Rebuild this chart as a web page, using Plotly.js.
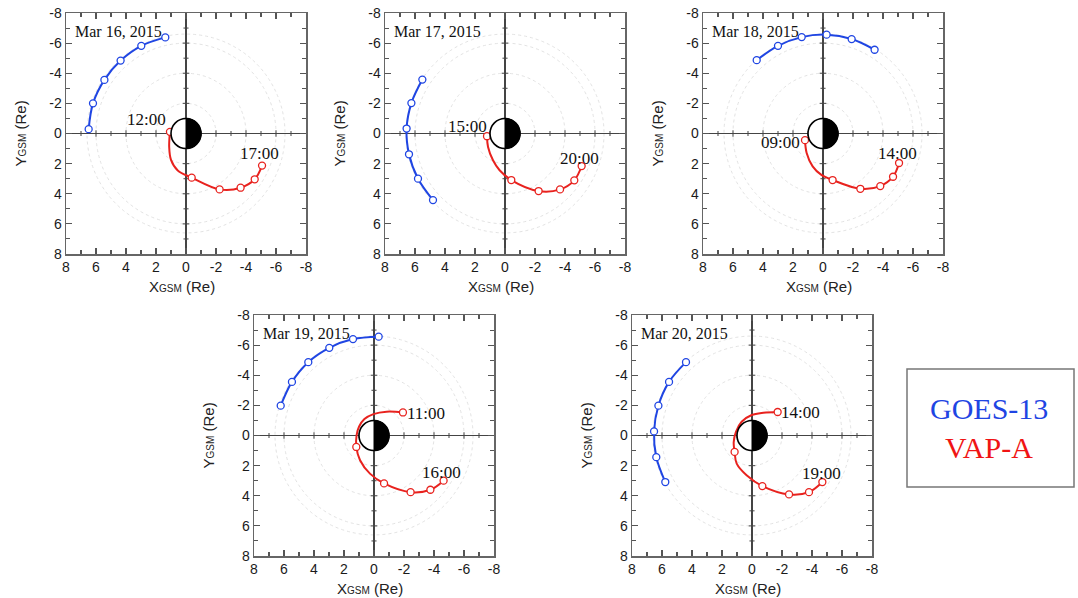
<!DOCTYPE html>
<html>
<head>
<meta charset="utf-8">
<script src="https://cdn.plot.ly/plotly-3.0.1.min.js"></script>
<style>html,body{margin:0;padding:0;background:#fff;}#chart{width:1078px;height:598px;}</style>
</head>
<body>
<div id="chart"></div>
<script>
// ---------------- DATA ----------------
const dayLabels = ['Mar 16, 2015', 'Mar 17, 2015', 'Mar 18, 2015', 'Mar 19, 2015', 'Mar 20, 2015'];
const startTimes = ['12:00', '15:00', '09:00', '11:00', '14:00'];
const endTimes = ['17:00', '20:00', '14:00', '16:00', '19:00'];
const seriesNames = ['GOES-13', 'VAP-A'];

// GOES-13 hourly positions (X_GSM, Y_GSM in Re)
const goesX16 = [6.49, 6.20, 5.44, 4.36, 2.98, 1.38];
const goesY16 = [-0.29, -2.00, -3.56, -4.84, -5.82, -6.38];
const goesX17 = [5.51, 6.24, 6.56, 6.40, 5.80, 4.80];
const goesY17 = [-3.58, -2.02, -0.33, 1.38, 3.00, 4.42];
const goesX18 = [4.42, 3.00, 1.42, -0.24, -1.91, -3.44];
const goesY18 = [-4.87, -5.82, -6.40, -6.56, -6.27, -5.56];
const goesX19 = [6.22, 5.47, 4.38, 2.98, 1.40, -0.31];
const goesY19 = [-1.98, -3.56, -4.87, -5.82, -6.40, -6.56];
const goesX20 = [4.40, 5.53, 6.24, 6.53, 6.38, 5.78];
const goesY20 = [-4.87, -3.56, -1.98, -0.27, 1.44, 3.09];

// VAP-A hourly positions
const vapX16 = [1.07, -0.38, -2.24, -3.64, -4.58, -5.07];
const vapY16 = [-0.11, 2.93, 3.71, 3.60, 3.04, 2.13];
const vapX17 = [1.20, -0.42, -2.24, -3.67, -4.62, -5.11];
const vapY17 = [0.18, 3.09, 3.82, 3.71, 3.11, 2.16];
const vapX18 = [1.20, -0.64, -2.49, -3.82, -4.67, -5.07];
const vapY18 = [0.44, 3.09, 3.67, 3.49, 2.87, 1.96];
const vapX19 = [-1.93, 1.18, -0.67, -2.44, -3.76, -4.64];
const vapY19 = [-1.53, 0.76, 3.18, 3.76, 3.60, 3.00];
const vapX20 = [-1.71, 1.16, -0.69, -2.47, -3.80, -4.69];
const vapY20 = [-1.56, 1.09, 3.36, 3.91, 3.76, 3.09];

// VAP-A orbit track (includes the points between the hourly marks)
const trackX16 = [1.07, 1.12, 1.00, 0.55, -0.38, -2.24, -3.64, -4.58, -5.07];
const trackY16 = [-0.11, 0.90, 1.75, 2.45, 2.93, 3.71, 3.60, 3.04, 2.13];
const trackX17 = [1.20, 1.13, 0.80, 0.36, -0.42, -2.24, -3.67, -4.62, -5.11];
const trackY17 = [0.18, 0.89, 1.78, 2.44, 3.09, 3.82, 3.71, 3.11, 2.16];
const trackX18 = [1.20, 1.09, 0.69, 0.13, -0.64, -2.49, -3.82, -4.67, -5.07];
const trackY18 = [0.44, 1.29, 2.18, 2.73, 3.09, 3.67, 3.49, 2.87, 1.96];
const trackX19 = [-1.93, -0.84, 0.04, 0.64, 1.00, 1.16, 1.18, 0.93, 0.27, -0.67, -2.44, -3.76, -4.64];
const trackY19 = [-1.53, -1.58, -1.42, -1.09, -0.58, -0.02, 0.76, 1.64, 2.53, 3.18, 3.76, 3.60, 3.00];
const trackX20 = [-1.71, -0.76, 0.02, 0.69, 1.07, 1.22, 1.16, 1.02, 0.36, -0.69, -2.47, -3.80, -4.69];
const trackY20 = [-1.56, -1.51, -1.36, -0.91, -0.24, 0.45, 1.09, 1.87, 2.64, 3.36, 3.91, 3.76, 3.09];

const tickVals = [-8, -6, -4, -2, 0, 2, 4, 6, 8];
const tickText = ['-8', '-6', '-4', '-2', '0', '2', '4', '6', '8'];
const ringRadii = [2, 4, 6, 6.6];

// ---------------- LAYOUT ----------------
const W = 1078, H = 598;
const boxes = [[66, 13], [385, 13], [703, 13], [254, 315], [632, 315]];
const PW = 240, PH = 241;
const startLabelPos = [
  {x: 1.25, y: -0.96, xanchor: 'right'},
  {x: 1.12, y: -0.44, xanchor: 'right'},
  {x: 1.50, y: 0.62, xanchor: 'right'},
  {x: -2.15, y: -1.47, xanchor: 'left'},
  {x: -1.85, y: -1.51, xanchor: 'left'}
];
const endLabelPos = [
  {x: -4.89, y: 1.36}, {x: -4.99, y: 1.69}, {x: -4.96, y: 1.36}, {x: -4.50, y: 2.47}, {x: -4.62, y: 2.51}
];

const panels = [
  {gx: goesX16, gy: goesY16, vx: vapX16, vy: vapY16, tx: trackX16, ty: trackY16},
  {gx: goesX17, gy: goesY17, vx: vapX17, vy: vapY17, tx: trackX17, ty: trackY17},
  {gx: goesX18, gy: goesY18, vx: vapX18, vy: vapY18, tx: trackX18, ty: trackY18},
  {gx: goesX19, gy: goesY19, vx: vapX19, vy: vapY19, tx: trackX19, ty: trackY19},
  {gx: goesX20, gy: goesY20, vx: vapX20, vy: vapY20, tx: trackX20, ty: trackY20}
];

const BLUE = '#1f45e3', RED = '#e8221e';
const SANS = 'Liberation Sans, Arial, sans-serif';
const SERIF = 'Liberation Serif, Times New Roman, serif';

const minorVals = [];
for (let v = -7; v <= 7; v += 2) minorVals.push(v);

const data = [];
const shapes = [];
const annotations = [];
const layout = {
  width: W, height: H,
  margin: {l: 0, r: 0, t: 0, b: 0},
  paper_bgcolor: '#ffffff', plot_bgcolor: 'rgba(0,0,0,0)',
  showlegend: false,
  shapes: shapes, annotations: annotations
};

function earthHalfPath() {
  let s = '';
  const n = 40;
  for (let k = 0; k <= n; k++) {
    const t = -Math.PI / 2 + Math.PI * k / n;
    const x = -Math.cos(t), y = Math.sin(t);
    s += (k === 0 ? 'M ' : ' L ') + x.toFixed(4) + ',' + y.toFixed(4);
  }
  return s + ' Z';
}

panels.forEach((p, i) => {
  const sfx = i === 0 ? '' : String(i + 1);
  const xa = 'x' + sfx, ya = 'y' + sfx;
  const [left, top] = boxes[i];
  const axCommon = {
    range: [8, -8], autorange: false, fixedrange: true,
    tickmode: 'array', tickvals: tickVals, ticktext: tickText,
    ticks: 'inside', ticklen: 6, tickwidth: 1.2, tickcolor: '#555',
    showline: true, linecolor: '#666', linewidth: 1.5, mirror: 'ticks',
    showgrid: false, zeroline: true, zerolinecolor: '#444', zerolinewidth: 1.4,
    tickfont: {family: SANS, size: 14, color: '#1a1a1a'},
    minor: {tickmode: 'array', tickvals: minorVals, ticks: 'inside', ticklen: 4, tickwidth: 1.1, tickcolor: '#555', showgrid: false}
  };
  layout['xaxis' + sfx] = Object.assign({}, axCommon, {
    domain: [left / W, (left + PW) / W], anchor: ya
  });
  layout['yaxis' + sfx] = Object.assign({}, axCommon, {
    domain: [1 - (top + PH) / H, 1 - top / H], anchor: xa
  });

  // rings
  ringRadii.forEach(r => shapes.push({
    type: 'circle', xref: xa, yref: ya, x0: -r, x1: r, y0: -r, y1: r,
    line: {color: '#e3e3e3', width: 1, dash: 'dot'}, layer: 'below'
  }));
  // ticks along zero lines
  for (let v = -7; v <= 7; v++) {
    if (v === 0) continue;
    const L = (v % 2 === 0) ? 0.22 : 0.17;
    shapes.push({type: 'line', xref: xa, yref: ya, x0: v, x1: v, y0: -L, y1: L, line: {color: '#555', width: 1.1}, layer: 'below'});
    shapes.push({type: 'line', xref: xa, yref: ya, x0: -L, x1: L, y0: v, y1: v, line: {color: '#555', width: 1.1}, layer: 'below'});
  }
  // Earth
  shapes.push({type: 'circle', xref: xa, yref: ya, x0: -1, x1: 1, y0: -1, y1: 1,
    fillcolor: '#ffffff', line: {color: '#000', width: 1.6}, layer: 'above'});
  shapes.push({type: 'path', xref: xa, yref: ya, path: earthHalfPath(),
    fillcolor: '#000', line: {color: '#000', width: 1}, layer: 'above'});

  // traces
  data.push({
    type: 'scatter', mode: 'lines+markers', x: p.gx, y: p.gy, xaxis: xa, yaxis: ya,
    name: seriesNames[0], line: {color: BLUE, width: 2, shape: 'spline'},
    marker: {symbol: 'circle', size: 7, color: '#ffffff', line: {color: BLUE, width: 1.3}},
    hoverinfo: 'skip'
  });
  data.push({
    type: 'scatter', mode: 'lines', x: p.tx, y: p.ty, xaxis: xa, yaxis: ya,
    name: seriesNames[1], line: {color: RED, width: 2, shape: 'spline'}, hoverinfo: 'skip'
  });
  data.push({
    type: 'scatter', mode: 'markers', x: p.vx, y: p.vy, xaxis: xa, yaxis: ya,
    name: seriesNames[1],
    marker: {symbol: 'circle', size: 7, color: '#ffffff', line: {color: RED, width: 1.3}},
    hoverinfo: 'skip'
  });

  // date label
  annotations.push({xref: xa, yref: ya, x: 7.5, y: -6.8, xanchor: 'left', yanchor: 'middle',
    text: dayLabels[i], showarrow: false, borderpad: 0, font: {family: SERIF, size: 16, color: '#111'}});
  // time labels
  annotations.push({xref: xa, yref: ya, x: startLabelPos[i].x, y: startLabelPos[i].y,
    xanchor: startLabelPos[i].xanchor, yanchor: 'middle', borderpad: 0,
    text: startTimes[i], showarrow: false, font: {family: SERIF, size: 17, color: '#111'}});
  annotations.push({xref: xa, yref: ya, x: endLabelPos[i].x, y: endLabelPos[i].y,
    xanchor: 'center', yanchor: 'middle', borderpad: 0,
    text: endTimes[i], showarrow: false, font: {family: SERIF, size: 17, color: '#111'}});
  // axis titles
  annotations.push({xref: 'paper', yref: 'paper', x: (left + PW / 2 - 4) / W, y: 1 - (top + PH + 32) / H,
    xanchor: 'center', yanchor: 'middle', showarrow: false,
    text: 'X<span style="font-size:10px">GSM</span> (Re)', font: {family: SANS, size: 15, color: '#222'}});
  annotations.push({xref: 'paper', yref: 'paper', x: (left - 46) / W, y: 1 - (top + PH / 2) / H,
    xanchor: 'center', yanchor: 'middle', showarrow: false, textangle: -90,
    text: 'Y<span style="font-size:10px">GSM</span> (Re)', font: {family: SANS, size: 15, color: '#222'}});
});

// legend box
shapes.push({type: 'rect', xref: 'paper', yref: 'paper', x0: 907 / W, x1: 1074 / W, y0: 1 - 487 / H, y1: 1 - 369 / H,
  line: {color: '#777', width: 1.5}, fillcolor: 'rgba(0,0,0,0)'});
annotations.push({xref: 'paper', yref: 'paper', x: 989 / W, y: 1 - 408 / H, xanchor: 'center', yanchor: 'middle',
  showarrow: false, text: seriesNames[0], font: {family: SERIF, size: 30, color: BLUE}});
annotations.push({xref: 'paper', yref: 'paper', x: 989 / W, y: 1 - 448 / H, xanchor: 'center', yanchor: 'middle',
  showarrow: false, text: seriesNames[1], font: {family: SERIF, size: 30, color: '#f01414'}});

Plotly.newPlot('chart', data, layout, {staticPlot: true, displayModeBar: false});
</script>
</body>
</html>
